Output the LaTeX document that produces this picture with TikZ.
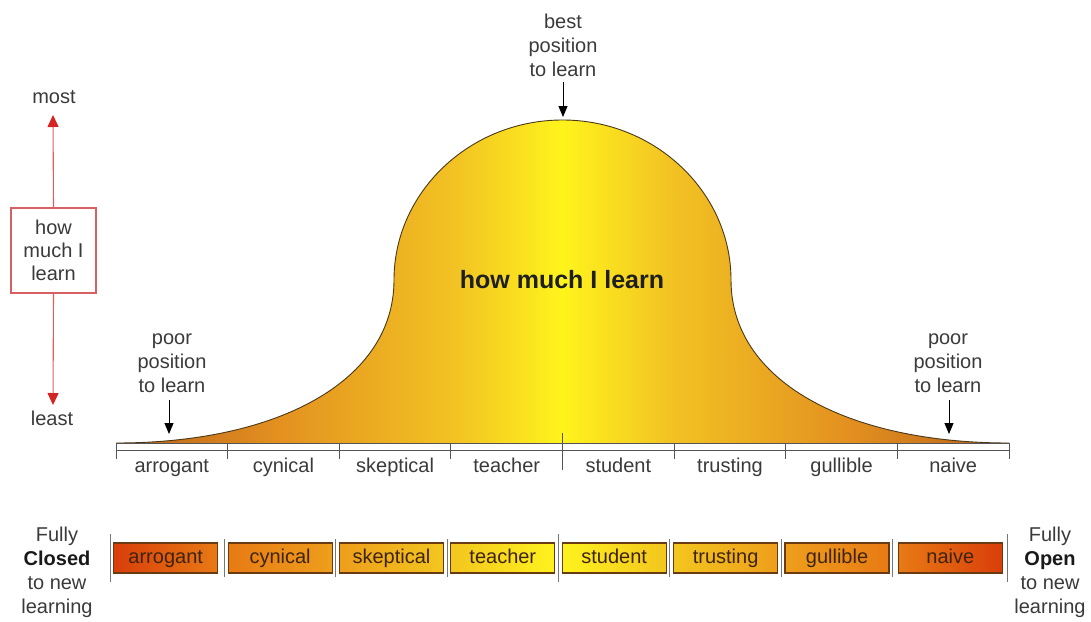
\documentclass[tikz,border=0pt]{standalone}
\usepackage{fontspec}
\setmainfont{Liberation Sans}
\usetikzlibrary{arrows.meta}
\definecolor{txt}{HTML}{3A3A3A}
\definecolor{axisc}{HTML}{555555}
\definecolor{redarr}{HTML}{D42424}
\definecolor{redline}{HTML}{D86060}
\definecolor{bellA}{HTML}{B8621A}
\definecolor{bellB}{HTML}{E39020}
\definecolor{bellC}{HTML}{F2C323}
\definecolor{bellD}{HTML}{FFF41C}
\definecolor{outl}{HTML}{4A3818}
\definecolor{segline}{HTML}{6A3A12}
\definecolor{segtxt}{HTML}{3E240C}
\definecolor{gA}{HTML}{D93E0A}
\definecolor{gB}{HTML}{E87A14}
\definecolor{gC}{HTML}{EE9E1C}
\definecolor{gD}{HTML}{F3C61E}
\definecolor{gE}{HTML}{FFF21E}
\pgfdeclarehorizontalshading{bellshade}{100bp}{color(0bp)=(bellA); color(25bp)=(bellA); color(34bp)=(bellB); color(44bp)=(bellC); color(50bp)=(bellD); color(56bp)=(bellC); color(66bp)=(bellB); color(75bp)=(bellA); color(100bp)=(bellA)}
\begin{document}
\begin{tikzpicture}[x=1pt,y=-1pt,
  lbl/.style={font=\fontsize{20}{24}\selectfont, text=txt, inner sep=0pt, align=center},
  seglbl/.style={font=\fontsize{20}{24}\selectfont, text=txt, inner sep=0pt, anchor=base},
  blackarrow/.style={draw=black, line width=1pt, -{Triangle[length=11pt,width=9pt]}},
  redarrow/.style={draw=redline, line width=1.1pt, -{Triangle[length=12pt,width=11pt,fill=redarr,color=redarr]}},
  tickline/.style={draw=axisc, line width=0.9pt},
  segbox/.style={draw=segline, line width=1.2pt, minimum width=104pt, minimum height=30pt, inner sep=0pt,
    text height=14pt, text depth=4pt, text=segtxt, font=\fontsize{20}{24}\selectfont},
  bartick/.style={draw=axisc!80, line width=0.9pt}
]
\useasboundingbox (0,0) rectangle (1091,621);

% ---------- bell curve ----------
\path[shading=bellshade] (116,443) .. controls (280,443) and (394,380) .. (394,280)
  .. controls (394,192) and (470,120) .. (562.5,120)
  .. controls (655,120) and (731,192) .. (731,280)
  .. controls (731,380) and (845,443) .. (1009,443) -- cycle;
\draw[outl, line width=0.9pt] (116,443) .. controls (280,443) and (394,380) .. (394,280)
  .. controls (394,192) and (470,120) .. (562.5,120)
  .. controls (655,120) and (731,192) .. (731,280)
  .. controls (731,380) and (845,443) .. (1009,443);
\node[font=\bfseries\fontsize{25}{30}\selectfont, text=black!88, inner sep=0pt, anchor=base] (bellText) at (562,288) {how much I learn};

% ---------- axis ----------
\draw[tickline] (116,443) -- (1009,443);
\draw[tickline] (116,450) -- (1009,450);
\foreach \x in {116,227.6,339.3,450.9,674.1,785.8,897.4,1009}
  \draw[tickline] (\x,443) -- (\x,459);
\draw[tickline] (562.5,433) -- (562.5,470);

\node[seglbl] (a1) at (171.8,472) {arrogant};
\node[seglbl] (a2) at (283.4,472) {cynical};
\node[seglbl] (a3) at (395.1,472) {skeptical};
\node[seglbl] (a4) at (506.7,472) {teacher};
\node[seglbl] (a5) at (618.3,472) {student};
\node[seglbl] (a6) at (730.0,472) {trusting};
\node[seglbl] (a7) at (841.6,472) {gullible};
\node[seglbl] (a8) at (953.2,472) {naive};

% ---------- position labels ----------
\node[lbl] (best) at (563,45) {best\\position\\to learn};
\coordinate (bestTip) at (563,117);
\draw[blackarrow] (563,82) -- (bestTip);

\node[lbl] (poorL) at (172,363) {poor\\position\\to learn};
\coordinate (poorLTip) at (169,434);
\draw[blackarrow] (169,400) -- (poorLTip);

\node[lbl] (poorR) at (948,363) {poor\\position\\to learn};
\coordinate (poorRTip) at (949,434);
\draw[blackarrow] (949,400) -- (poorRTip);

% ---------- left scale ----------
\node[draw=redline, line width=1.1pt, minimum width=85pt, minimum height=85pt, inner sep=0pt,
      font=\fontsize{20}{23}\selectfont, text=txt, align=center] (hbox) at (53.5,250.5) {how\\much I\\learn};
\node[seglbl] (most) at (54,103) {most};
\node[seglbl] (least) at (52,425) {least};
\coordinate (mostTip) at (53,115);
\coordinate (leastTip) at (53,405);
\draw[redarrow] (hbox.north) -- (mostTip);
\draw[redarrow] (hbox.south) -- (leastTip);

% ---------- bottom bar ----------
\foreach \x in {110,1007}
  \draw[bartick] (\x,534) -- (\x,582);
\draw[bartick] (558.5,534) -- (558.5,582);
\foreach \x in {224.4,335.8,447.1,669.9,781.3,892.6}
  \draw[bartick] (\x,539) -- (\x,577);

\node[segbox, left color=gA, right color=gB] (s1) at (165.7,558) {arrogant};
\node[segbox, left color=gB, right color=gC] (s2) at (280.1,558) {cynical};
\node[segbox, left color=gC, right color=gD] (s3) at (391.5,558) {skeptical};
\node[segbox, left color=gD, right color=gE] (s4) at (502.8,558) {teacher};
\node[segbox, left color=gE, right color=gD] (s5) at (614.2,558) {student};
\node[segbox, left color=gD, right color=gC] (s6) at (725.6,558) {trusting};
\node[segbox, left color=gC, right color=gB] (s7) at (837.0,558) {gullible};
\node[segbox, left color=gB, right color=gA] (s8) at (950.3,558) {naive};

\node[lbl] (closed) at (57,572) {Fully\\{\color{black!90}\bfseries Closed}\\to new\\learning};
\node[lbl] (open) at (1050,572) {Fully\\{\color{black!90}\bfseries Open}\\to new\\learning};
\end{tikzpicture}
\end{document}
